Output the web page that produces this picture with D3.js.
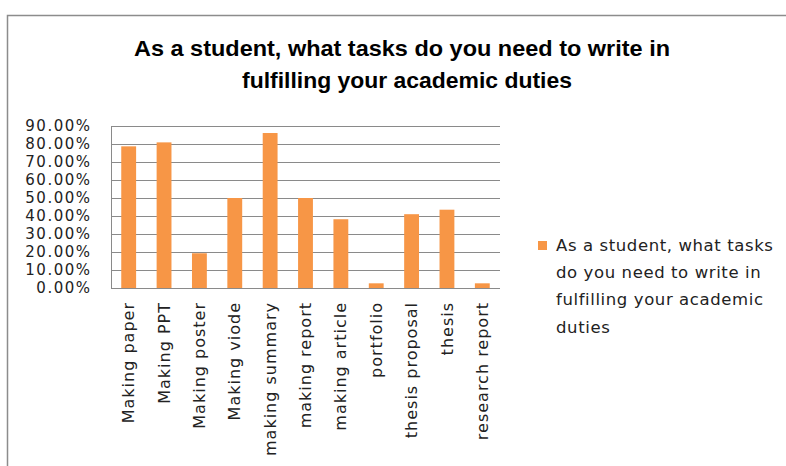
<!DOCTYPE html>
<html><head><meta charset="utf-8">
<script src="https://cdn.jsdelivr.net/npm/d3@7"></script>
<style>body{margin:0;background:#fff}svg{display:block}</style>
</head><body>
<svg id="c" width="786" height="466"></svg>
<script>
const categories = ["Making paper","Making PPT","Making poster","Making viode","making summary","making report","making article","portfolio","thesis proposal","thesis","research report"];
const values = [0.787,0.809,0.193,0.50,0.861,0.50,0.382,0.026,0.41,0.435,0.026];
const yTicks = [0,0.1,0.2,0.3,0.4,0.5,0.6,0.7,0.8,0.9];
const titleLines = ["As a student, what tasks do you need to write in","fulfilling  your academic duties"];
const legendLines = ["As a student, what tasks","do you need to write in","fulfilling your academic","duties"];

const svg = d3.select("#c");
const FONT = "'DejaVu Sans', Verdana, sans-serif";
svg.append("rect").attr("x",7.5).attr("y",15.5).attr("width",820).attr("height",480)
  .attr("fill","#fff").attr("stroke","#8c8c8c").attr("stroke-width",1.5);

const L=111, R=500, T=126, B=288;
const x = d3.scaleBand().domain(categories).range([L,R]).paddingInner(0.58).paddingOuter(0.29);
const y = d3.scaleLinear().domain([0,0.9]).range([B,T]);

// gridlines
svg.append("g").selectAll("line").data(yTicks.filter(d=>d>0)).join("line")
  .attr("x1",L).attr("x2",R).attr("y1",d=>Math.round(y(d))+0.5).attr("y2",d=>Math.round(y(d))+0.5)
  .attr("stroke","#8a8a8a").attr("stroke-width",1);

// bars
svg.append("g").selectAll("rect").data(values).join("rect")
  .attr("x",(d,i)=>x(categories[i])).attr("width",x.bandwidth())
  .attr("y",d=>y(d)).attr("height",d=>B-y(d)).attr("fill","#F79646");

// axes
const yAxis = d3.axisLeft(y).tickValues(yTicks).tickSize(0).tickPadding(0).tickFormat(d3.format(".2%"));
const gy = svg.append("g").attr("transform",`translate(90,0)`).call(yAxis);
gy.select(".domain").remove();
gy.selectAll("text").attr("font-family",FONT).attr("font-size",15).attr("letter-spacing","1.5px")
  .attr("fill","#222").attr("dx",1.5);

svg.append("line").attr("x1",L+0.5).attr("x2",L+0.5).attr("y1",T).attr("y2",B).attr("stroke","#8a8a8a");
svg.append("line").attr("x1",L).attr("x2",R).attr("y1",B+0.5).attr("y2",B+0.5).attr("stroke","#8a8a8a");

const xAxis = d3.axisBottom(x).tickSize(0).tickPadding(0);
const gx = svg.append("g").attr("transform",`translate(0,${B})`).call(xAxis);
gx.select(".domain").remove();
gx.selectAll("text").attr("font-family",FONT).attr("font-size",16).attr("letter-spacing","1px")
  .attr("fill","#222").attr("text-anchor","end").attr("dy","0.35em")
  .attr("transform","translate(0,14) rotate(-90)").attr("x",0).attr("y",0);

// title
const tl = [536, 330];
svg.append("g").selectAll("text").data(titleLines).join("text")
  .attr("x",(d,i)=>i?407:402).attr("y",(d,i)=>56+i*32).attr("text-anchor","middle")
  .attr("font-family","'Liberation Sans',Arial,sans-serif")
  .attr("textLength",(d,i)=>tl[i]).attr("lengthAdjust","spacingAndGlyphs")
  .attr("font-weight","bold").attr("font-size",22).attr("fill","#000").text(d=>d);

// legend
svg.append("rect").attr("x",538).attr("y",241).attr("width",9).attr("height",9).attr("fill","#F79646");
svg.append("g").selectAll("text").data(legendLines).join("text")
  .attr("x",556).attr("y",(d,i)=>245+i*27.3).attr("dy","0.35em")
  .attr("font-family",FONT).attr("font-size",16.5).attr("letter-spacing","0.6px")
  .attr("fill","#222").text(d=>d);
</script>
</body></html>
